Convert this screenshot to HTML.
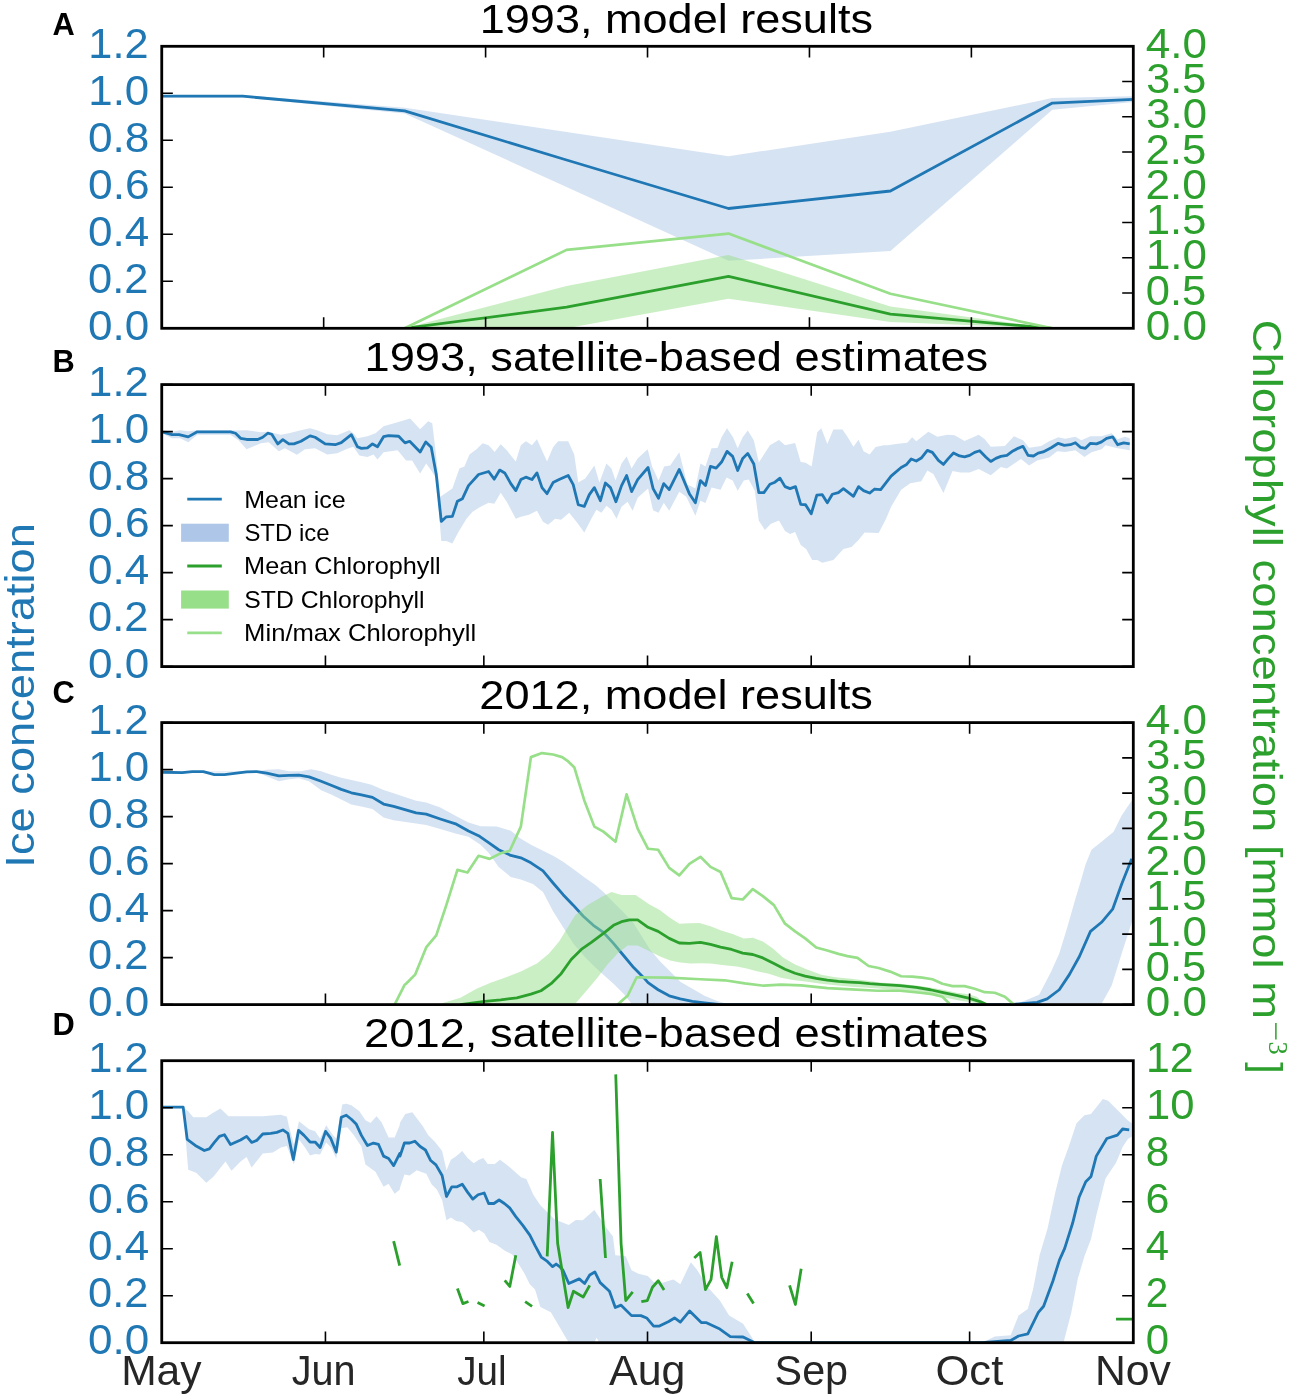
<!DOCTYPE html><html><head><meta charset="utf-8"><style>html,body{margin:0;padding:0;background:#fff;}svg{display:block;will-change:transform;}</style></head><body><svg width="1291" height="1396" viewBox="0 0 1291 1396" font-family="Liberation Sans, sans-serif">
<rect width="1291" height="1396" fill="#fff"/>
<defs>
<clipPath id="c0"><rect x="161.75" y="46.3" width="971.55" height="282.0"/></clipPath>
<clipPath id="c1"><rect x="161.75" y="384.6" width="971.55" height="282.0"/></clipPath>
<clipPath id="c2"><rect x="161.75" y="722.6" width="971.55" height="282.0"/></clipPath>
<clipPath id="c3"><rect x="161.75" y="1060.7" width="971.55" height="282.0"/></clipPath>
</defs>
<polygon points="161.75,95.00 242.71,95.00 404.64,107.80 566.56,132.00 728.49,156.20 890.41,131.80 1052.34,98.10 1133.30,96.20 1133.30,102.00 1052.34,109.70 890.41,251.00 728.49,260.80 566.56,187.00 404.64,113.60 242.71,97.50 161.75,97.50" fill="#aec7e8" fill-opacity="0.5" stroke="none" clip-path="url(#c0)"/>
<polyline points="161.75,96.20 242.71,96.20 404.64,110.90 566.56,160.00 728.49,208.50 890.41,191.00 1052.34,103.10 1133.30,99.30" fill="none" stroke="#1f77b4" stroke-width="2.8" stroke-linejoin="round" stroke-linecap="butt" clip-path="url(#c0)" />
<polygon points="161.75,328.30 404.64,328.30 566.56,286.00 728.49,255.00 890.41,306.50 1052.34,328.30 1133.30,328.30 1133.30,328.30 1052.34,328.30 890.41,322.00 728.49,298.70 566.56,328.30 404.64,328.30 161.75,328.30" fill="#98df8a" fill-opacity="0.5" stroke="none" clip-path="url(#c0)"/>
<polyline points="161.75,328.30 404.64,328.30 566.56,307.20 728.49,276.30 890.41,314.20 1052.34,328.30 1133.30,328.30" fill="none" stroke="#2ca02c" stroke-width="2.8" stroke-linejoin="round" stroke-linecap="butt" clip-path="url(#c0)" />
<polyline points="161.75,328.30 404.64,328.30 566.56,249.90 728.49,233.60 890.41,293.70 1052.34,328.30 1133.30,328.30" fill="none" stroke="#98df8a" stroke-width="2.7" stroke-linejoin="round" stroke-linecap="butt" clip-path="url(#c0)" />
<polygon points="163.02,430.21 172.08,431.82 180.14,430.21 188.20,431.22 197.26,430.21 230.49,430.21 236.54,430.61 246.61,430.21 260.70,432.23 267.75,431.82 280.85,434.64 288.90,433.23 300.99,430.21 310.05,428.20 317.10,430.21 327.17,434.24 337.24,435.25 349.33,430.21 353.35,433.23 357.38,438.27 367.45,436.25 375.51,433.23 383.56,426.18 397.66,422.16 410.07,418.53 420.14,429.20 428.20,421.15 432.23,423.16 435.25,448.34 440.28,496.68 443.30,494.66 452.37,488.62 459.42,468.48 464.45,466.47 469.49,454.38 476.54,449.35 482.58,443.30 488.62,445.32 494.66,451.96 500.70,444.31 506.75,450.35 515.81,461.43 520.85,445.32 525.88,441.29 531.92,445.32 536.96,439.27 540.99,448.34 547.03,461.43 553.07,447.33 558.11,441.29 568.18,441.29 574.22,454.38 578.25,482.58 585.30,478.55 594.36,465.46 599.40,482.58 606.45,463.44 611.48,468.48 615.51,480.56 621.55,463.44 626.59,456.39 631.62,468.48 637.66,458.41 647.65,449.35 652.08,466.47 658.53,480.56 664.17,466.47 670.21,465.46 679.27,452.37 687.33,484.59 695.39,488.62 700.42,463.44 705.46,466.47 711.50,448.34 717.54,447.94 721.57,437.26 727.01,428.20 733.05,437.26 737.68,448.34 742.72,437.26 747.75,430.61 753.80,440.28 758.83,462.44 769.91,445.32 778.97,439.88 785.02,445.32 795.09,442.90 800.73,462.03 805.56,462.84 811.60,466.47 817.24,432.23 821.27,428.20 827.31,443.91 833.35,429.61 842.42,429.61 847.45,436.66 853.49,446.73 858.53,439.68 863.56,451.36 869.61,454.38 875.65,446.93 883.71,445.32 888.06,445.32 896.11,443.91 907.19,442.70 912.23,437.26 916.25,441.29 928.34,431.82 937.40,436.86 947.47,434.64 954.52,435.25 964.59,440.89 978.69,434.84 984.73,439.27 990.78,446.73 1004.87,445.92 1013.94,436.25 1023.00,440.28 1029.04,447.73 1041.13,445.92 1049.18,441.29 1058.25,437.26 1065.30,438.67 1075.37,436.86 1081.41,440.28 1090.47,436.25 1101.55,436.25 1111.62,433.23 1117.66,439.27 1124.71,436.86 1129.75,438.27 1129.75,450.35 1117.66,448.34 1105.58,445.32 1101.55,449.35 1091.48,452.37 1084.43,457.00 1075.37,450.35 1065.30,451.96 1057.24,451.36 1049.18,457.40 1037.10,460.42 1029.04,465.46 1020.99,459.01 1006.89,468.48 1000.85,467.07 990.78,475.13 978.69,468.88 969.63,472.51 960.56,472.51 952.51,470.90 943.44,493.05 933.37,474.12 927.33,470.49 921.29,481.17 910.21,483.18 901.15,489.63 891.08,506.75 886.04,518.83 878.67,532.93 864.57,532.53 858.53,539.98 851.48,547.03 843.42,549.04 833.35,560.12 822.28,562.74 817.24,560.12 812.21,560.12 806.16,549.04 800.73,545.02 795.09,531.92 790.05,533.94 785.02,530.92 778.97,520.44 770.92,523.87 764.87,529.91 758.83,520.85 754.80,490.63 748.76,479.56 743.73,480.56 737.68,490.63 732.65,480.56 726.61,477.54 720.56,489.63 711.50,487.61 705.46,503.12 700.42,500.70 695.39,515.81 686.32,496.68 679.27,491.64 669.20,510.78 663.77,502.72 658.53,512.79 653.09,510.37 648.06,488.62 637.66,497.68 632.63,510.78 627.59,501.71 621.55,506.75 616.52,518.83 611.48,509.77 606.45,505.74 601.41,512.79 596.37,509.77 591.34,518.83 584.29,532.53 577.24,522.86 569.18,512.79 561.13,519.84 555.09,518.83 548.04,524.87 543.00,521.85 536.96,510.78 528.90,514.80 520.85,516.82 515.81,518.83 506.75,501.71 500.70,492.65 494.26,503.73 488.62,502.72 480.56,506.75 472.51,511.78 466.47,518.83 458.41,531.92 452.37,543.40 446.32,540.99 441.29,540.99 436.25,478.55 431.22,470.49 426.18,463.44 420.14,473.51 412.08,460.42 406.04,460.42 397.66,450.35 383.56,452.37 377.52,459.42 373.49,454.38 367.45,457.00 359.40,455.39 353.35,446.73 347.31,448.74 337.24,453.37 327.17,454.38 315.09,448.34 305.02,449.35 296.96,454.78 284.87,448.34 278.83,451.36 268.76,442.30 260.70,443.30 246.61,449.35 238.55,440.28 230.49,434.64 197.26,434.64 188.20,442.30 180.14,438.27 172.08,438.27 163.02,433.84" fill="#aec7e8" fill-opacity="0.5" stroke="none" clip-path="url(#c1)"/>
<polyline points="163.02,432.23 172.08,434.64 179.13,434.64 188.20,436.86 197.26,431.82 230.49,431.82 235.53,433.23 240.56,438.27 246.61,439.48 257.68,439.48 262.72,437.26 267.75,433.23 271.78,434.24 277.82,443.91 282.86,439.68 288.90,443.91 293.94,443.91 300.99,441.29 310.05,435.85 315.09,437.26 325.16,443.91 335.23,444.71 341.27,442.70 351.34,434.64 357.38,446.73 361.41,448.34 367.45,447.94 372.49,443.91 377.52,446.73 383.56,436.66 388.60,435.65 398.67,436.25 405.04,442.90 409.67,441.29 420.14,451.96 425.78,441.89 431.22,447.33 436.25,474.52 441.29,521.45 446.32,516.82 452.37,516.41 457.40,501.31 462.44,498.69 468.48,485.60 478.55,474.52 488.62,471.50 494.26,479.15 499.70,470.09 504.73,472.91 510.78,483.59 515.81,490.63 520.85,479.56 525.88,477.14 531.92,479.56 536.96,472.91 541.99,487.61 547.03,493.66 553.07,482.58 559.11,479.56 568.18,475.53 573.21,484.59 578.25,504.73 584.29,506.34 589.33,494.66 594.36,487.61 600.40,500.70 605.44,482.98 610.47,487.61 615.91,501.71 621.55,485.60 626.59,475.53 631.62,491.64 637.66,479.56 648.06,467.47 653.09,488.62 658.53,498.29 663.77,483.59 669.20,489.63 679.27,469.49 689.35,493.66 695.39,502.72 700.42,480.56 705.46,485.60 710.49,466.47 716.13,468.08 721.57,462.03 727.01,451.36 732.65,456.39 737.68,470.49 742.72,458.41 747.75,453.37 753.80,464.05 758.83,492.65 763.87,492.65 769.91,484.19 774.94,482.18 779.98,478.15 785.02,486.61 790.05,488.62 795.49,486.61 800.73,504.33 805.56,504.73 811.20,513.80 816.84,495.07 822.28,494.66 827.31,502.72 832.35,494.26 838.39,492.65 843.42,488.62 853.49,496.27 858.53,486.61 863.56,490.63 869.61,493.05 874.64,489.02 880.68,489.63 891.08,476.13 901.15,467.47 906.18,464.85 911.22,459.01 916.25,461.03 921.29,458.01 927.33,450.35 932.37,452.37 938.41,460.42 943.44,464.45 948.48,458.41 953.51,452.97 959.56,455.99 964.59,456.80 969.63,455.39 974.66,452.37 979.70,450.76 985.74,457.00 990.78,461.43 995.81,458.41 1000.85,456.39 1006.89,455.39 1012.93,450.96 1017.97,448.34 1023.00,446.32 1028.04,455.39 1033.47,455.99 1038.11,453.17 1043.14,451.96 1051.20,447.73 1058.25,443.30 1064.29,445.32 1070.33,444.71 1075.37,442.70 1080.40,447.33 1085.44,448.34 1090.47,443.30 1096.52,443.91 1101.55,441.89 1106.59,438.27 1112.63,436.86 1117.66,444.71 1123.71,442.90 1129.75,443.91" fill="none" stroke="#1f77b4" stroke-width="2.8" stroke-linejoin="round" stroke-linecap="butt" clip-path="url(#c1)" />
<polygon points="163.02,771.82 256.68,771.22 266.75,769.81 278.83,769.20 288.90,771.22 300.99,771.22 311.06,769.20 321.13,771.22 331.20,774.64 341.27,777.87 351.34,779.88 361.41,782.30 371.48,784.71 383.56,789.95 393.64,793.37 416.11,800.83 426.18,802.44 440.28,807.47 456.39,816.13 468.48,822.58 480.56,826.20 496.68,826.61 510.78,830.63 520.85,838.69 530.92,844.73 543.00,850.78 553.07,855.81 563.14,861.85 575.23,870.51 585.30,877.97 595.37,885.02 603.42,892.06 613.49,902.13 623.56,912.21 633.64,923.28 650.07,949.47 660.14,961.55 670.21,971.62 680.28,981.69 692.37,988.74 704.45,995.79 716.54,1000.83 726.61,1003.85 1016.96,1003.85 1027.03,999.82 1039.11,994.78 1051.20,971.62 1059.25,953.49 1067.31,927.31 1075.37,899.11 1081.41,878.97 1085.44,864.87 1091.48,849.77 1101.55,841.71 1113.64,831.64 1121.69,815.53 1127.73,806.47 1134.78,796.39 1134.78,913.21 1121.69,953.49 1111.62,985.72 1101.55,1003.85 631.62,1003.85 623.56,993.78 613.49,983.71 603.42,974.64 595.37,967.59 585.30,957.52 573.21,943.42 563.14,927.31 553.07,911.20 543.00,892.06 532.93,884.01 520.85,879.38 510.78,876.96 498.69,866.89 488.62,852.79 480.56,844.73 468.48,836.68 456.39,833.66 440.28,829.02 426.18,824.99 416.11,823.59 393.64,820.16 383.56,817.54 372.49,808.88 361.41,806.47 351.34,804.45 341.27,799.42 331.20,794.38 321.13,790.35 309.04,781.29 298.97,778.27 288.90,779.27 278.83,781.29 266.75,776.25 256.68,772.23 163.02,772.63" fill="#aec7e8" fill-opacity="0.5" stroke="none" clip-path="url(#c2)"/>
<polyline points="163.02,772.23 182.16,772.63 192.23,771.62 203.30,771.62 214.38,774.64 224.45,774.64 234.52,773.43 246.61,771.82 256.68,771.62 266.75,773.23 278.83,775.85 288.90,775.45 298.97,775.05 309.04,776.86 321.13,781.29 331.20,785.32 341.27,789.35 351.34,792.77 361.41,794.98 372.49,797.40 383.56,804.05 393.64,806.47 416.11,812.91 426.18,814.12 440.28,818.95 456.39,824.19 468.48,831.04 478.55,835.67 488.62,842.72 498.69,849.77 510.78,855.41 520.85,857.82 530.92,862.86 543.00,870.92 553.07,883.00 563.14,894.68 573.21,905.16 583.28,916.23 593.35,925.30 603.42,932.35 613.49,943.42 623.56,955.51 633.64,967.59 643.71,977.66 648.06,982.70 658.13,989.75 669.20,995.79 680.28,998.81 692.37,1001.43 704.45,1002.84 720.56,1004.60 1010.92,1004.60 1037.10,1002.44 1047.17,998.81 1059.25,989.75 1069.33,974.64 1079.40,956.52 1090.47,931.34 1101.55,922.28 1112.63,909.18 1121.69,884.01 1131.76,858.83" fill="none" stroke="#1f77b4" stroke-width="2.8" stroke-linejoin="round" stroke-linecap="butt" clip-path="url(#c2)" />
<polygon points="440.28,1003.85 460.42,997.80 476.54,988.74 490.63,982.70 504.73,977.66 520.85,971.62 536.96,963.56 549.04,953.49 559.11,941.41 567.17,928.32 575.23,915.23 587.31,905.16 601.41,897.10 611.48,892.06 621.55,895.09 635.65,895.09 649.06,904.15 660.14,910.19 669.20,917.24 679.27,923.69 689.35,923.28 699.42,922.88 710.49,926.30 720.56,930.33 732.65,933.96 743.73,938.39 752.79,937.78 762.86,941.41 772.93,948.46 783.00,957.52 795.09,964.57 807.17,969.61 821.27,974.64 835.37,977.26 851.48,978.67 867.59,980.68 881.69,982.70 900.14,983.71 920.28,986.12 940.42,989.35 956.54,992.77 968.62,994.18 976.68,996.80 984.73,1003.85 980.70,1003.85 960.56,1000.83 940.42,996.80 920.28,993.37 900.14,990.76 881.69,988.74 867.59,987.73 851.48,986.73 835.37,985.32 821.27,983.71 807.17,981.69 793.07,980.08 780.99,977.66 768.90,973.64 756.82,971.22 746.75,968.60 736.68,966.59 724.59,965.18 710.49,963.56 700.42,963.16 690.35,963.56 680.28,962.56 670.21,960.54 660.14,956.52 650.07,951.48 637.66,945.44 627.59,945.44 617.52,953.49 607.45,964.57 597.38,977.66 587.31,989.75 575.23,1003.85" fill="#98df8a" fill-opacity="0.5" stroke="none" clip-path="url(#c2)"/>
<polyline points="460.42,1004.60 484.59,1001.43 500.70,999.82 516.82,997.80 530.92,994.18 540.99,990.76 551.06,983.71 561.13,973.64 571.20,959.54 581.27,949.47 591.34,942.42 603.42,933.35 613.49,925.30 621.55,921.67 629.61,919.86 637.66,919.86 648.06,927.31 658.13,931.34 669.20,938.39 679.27,943.02 689.35,943.42 700.42,942.42 710.49,944.43 720.56,947.05 731.64,949.47 742.72,953.09 752.79,954.50 762.86,957.93 773.94,963.56 785.02,969.20 795.09,973.23 805.16,976.05 816.23,978.47 827.31,980.08 838.39,981.29 849.47,982.09 859.54,982.70 869.61,983.71 879.68,984.31 900.14,985.72 916.25,987.33 930.35,989.75 944.45,992.77 956.54,995.39 968.62,998.21 980.70,1001.83 986.75,1004.60" fill="none" stroke="#2ca02c" stroke-width="2.8" stroke-linejoin="round" stroke-linecap="butt" clip-path="url(#c2)" />
<polyline points="394.64,1004.60 404.71,984.71 406.04,983.71 415.11,974.64 426.18,947.45 436.25,935.37 446.32,905.16 457.40,869.91 467.47,872.53 478.55,855.81 489.63,858.83 500.70,853.19 509.77,850.78 520.85,826.61 530.92,757.12 541.99,753.09 553.07,754.50 562.13,757.12 567.17,760.54 574.22,767.19 584.29,800.42 594.36,826.61 603.42,831.64 615.51,841.71 626.59,794.38 637.66,828.62 648.06,848.76 658.13,849.77 669.20,867.90 679.27,875.35 689.35,863.87 700.42,856.82 710.49,866.89 720.56,871.92 731.64,898.11 742.72,899.52 752.79,889.04 762.86,896.09 773.94,905.16 785.02,923.69 795.09,931.34 805.16,938.39 816.23,947.45 827.31,950.47 838.39,953.90 847.45,956.11 857.52,957.93 868.60,965.98 878.67,968.00 890.07,971.62 901.15,976.25 912.23,976.66 922.30,977.66 932.37,979.27 942.44,983.71 952.51,986.12 964.59,986.12 974.66,988.74 984.73,992.17 994.80,992.77 1004.87,996.80 1013.94,1004.60" fill="none" stroke="#98df8a" stroke-width="2.7" stroke-linejoin="round" stroke-linecap="butt" clip-path="url(#c2)" />
<polyline points="617.52,1004.60 627.59,995.79 636.66,977.26 668.20,977.66 700.42,979.27 724.59,980.28 744.73,983.30 763.87,985.72 780.99,984.71 801.13,985.32 827.31,988.14 851.48,989.35 877.66,990.76 900.14,990.76 920.28,992.77 932.37,994.18 942.44,996.80 950.49,1004.60" fill="none" stroke="#98df8a" stroke-width="2.7" stroke-linejoin="round" stroke-linecap="butt" clip-path="url(#c2)" />
<polygon points="163.02,1107.19 183.16,1107.19 188.20,1111.22 193.23,1117.26 206.32,1117.26 212.37,1113.23 220.42,1108.60 228.48,1116.25 246.61,1116.25 262.72,1116.25 280.85,1114.64 286.89,1116.66 288.90,1126.32 293.94,1144.45 298.97,1121.29 309.04,1129.35 315.09,1131.36 320.12,1138.41 326.16,1125.32 333.21,1135.39 336.23,1138.41 342.28,1104.57 346.30,1103.77 351.34,1105.18 359.40,1111.22 365.44,1120.28 370.47,1122.90 376.52,1116.25 381.55,1122.30 388.60,1137.40 394.64,1137.40 399.68,1125.32 400.00,1122.81 405.26,1114.04 412.28,1112.28 417.54,1119.30 422.81,1126.32 428.07,1135.09 435.09,1142.11 442.11,1150.88 446.49,1170.18 450.88,1159.65 456.14,1156.14 462.28,1150.88 467.54,1157.89 473.68,1163.16 478.95,1159.65 483.33,1157.89 487.72,1164.04 494.74,1164.04 500.00,1159.65 507.02,1164.91 514.04,1171.05 521.05,1177.19 526.32,1178.95 533.33,1194.74 540.35,1205.26 547.37,1212.28 554.39,1219.30 568.80,1224.99 575.77,1219.88 582.74,1220.34 594.36,1209.88 605.98,1227.31 612.95,1236.61 615.28,1255.20 625.73,1256.36 631.54,1270.30 638.51,1273.79 647.81,1276.11 653.62,1281.92 661.75,1283.08 673.37,1279.60 680.34,1284.25 690.80,1262.17 696.61,1269.14 708.23,1287.73 719.85,1300.51 729.14,1315.62 743.08,1323.75 754.70,1341.64 810.53,1342.33 983.04,1342.33 994.89,1336.53 1010.69,1335.22 1018.59,1315.46 1027.81,1308.88 1033.08,1289.13 1039.66,1254.89 1047.56,1228.55 1055.46,1191.68 1062.05,1165.35 1068.63,1146.91 1076.53,1123.21 1084.44,1115.31 1091.02,1113.99 1102.87,1098.98 1108.14,1100.82 1118.67,1111.36 1127.89,1120.57 1131.84,1123.21 1131.84,1136.38 1127.89,1139.01 1122.62,1146.91 1116.04,1162.71 1105.50,1178.51 1096.29,1215.39 1091.02,1239.09 1084.44,1256.21 1077.85,1278.59 1071.27,1312.83 1063.37,1343.12 810.53,1343.12 599.01,1342.34 596.69,1337.69 594.36,1342.34 568.80,1342.34 566.48,1338.86 550.88,1312.28 540.35,1307.02 535.09,1289.47 529.82,1284.21 524.56,1273.68 519.30,1264.91 512.28,1254.39 505.26,1250.88 496.49,1244.74 489.47,1242.11 484.21,1233.33 478.95,1229.82 473.68,1232.46 467.54,1226.32 462.28,1221.93 456.14,1221.05 450.88,1217.54 446.49,1220.18 442.11,1200.00 436.84,1189.47 431.58,1184.21 426.32,1173.68 416.67,1170.18 409.65,1175.44 404.39,1174.56 400.00,1187.72 399.68,1189.77 394.64,1193.80 388.60,1183.73 383.56,1186.75 375.51,1171.64 365.44,1164.59 361.41,1146.47 353.35,1134.38 347.31,1127.33 341.27,1128.34 336.23,1158.55 331.20,1147.47 326.16,1142.44 320.12,1154.52 315.09,1154.12 310.05,1155.53 305.02,1147.47 298.97,1139.42 293.94,1164.59 286.89,1146.06 280.85,1147.47 272.79,1152.51 262.72,1153.51 251.64,1167.61 246.61,1156.94 240.56,1161.57 231.50,1170.63 225.46,1161.57 213.37,1176.68 206.32,1182.72 196.25,1172.65 188.20,1169.63 183.16,1107.19 163.02,1107.19" fill="#aec7e8" fill-opacity="0.5" stroke="none" clip-path="url(#c3)"/>
<polyline points="163.02,1107.19 183.16,1107.19 187.19,1139.42 195.25,1145.46 204.31,1150.49 209.35,1148.88 214.38,1142.44 219.42,1136.39 224.45,1134.78 230.49,1144.45 240.56,1140.02 246.61,1136.39 251.64,1142.44 256.68,1140.42 262.72,1133.98 270.78,1133.37 276.82,1132.37 282.86,1129.95 287.90,1133.37 293.33,1159.56 298.57,1130.35 304.01,1135.39 310.05,1142.03 315.09,1142.03 320.12,1147.47 325.56,1131.36 330.80,1138.41 336.23,1152.10 341.27,1117.26 346.30,1115.25 351.34,1119.27 356.37,1124.31 361.41,1135.39 367.45,1145.46 373.49,1143.04 378.53,1144.45 383.56,1156.13 388.60,1158.55 393.64,1165.60 399.68,1153.51 400.00,1156.14 404.39,1142.98 409.65,1142.98 414.91,1141.23 420.18,1146.49 425.44,1150.00 430.70,1160.53 435.96,1164.91 442.11,1175.44 446.49,1196.49 451.75,1186.84 457.02,1186.84 462.28,1184.21 467.54,1192.11 472.81,1199.12 478.07,1194.74 484.21,1192.98 488.60,1203.51 493.86,1203.51 499.12,1200.00 504.39,1203.51 509.65,1207.89 515.79,1216.67 522.81,1225.44 529.82,1235.09 535.09,1245.61 541.23,1257.02 547.37,1261.40 552.63,1266.67 556.14,1264.04 559.65,1266.67 562.99,1270.30 568.80,1283.55 579.26,1278.90 584.60,1283.55 589.71,1274.95 594.83,1271.93 600.17,1282.62 609.47,1291.22 615.28,1307.48 621.09,1305.16 631.54,1315.62 640.84,1315.62 646.65,1317.94 653.62,1326.07 659.43,1326.07 668.72,1321.43 674.53,1317.94 680.34,1322.12 689.64,1310.97 701.26,1322.59 705.90,1322.59 719.85,1329.10 730.30,1336.53 743.08,1337.00 754.70,1342.70 798.86,1342.70 810.53,1342.70 981.72,1342.70 1010.69,1340.48 1018.59,1336.01 1027.81,1333.90 1038.35,1312.30 1043.61,1306.25 1052.83,1281.23 1059.42,1260.16 1064.68,1248.31 1072.58,1223.29 1079.17,1196.95 1085.75,1181.68 1091.02,1176.41 1096.29,1156.13 1106.82,1138.48 1117.36,1135.06 1122.62,1129.00 1129.21,1129.79" fill="none" stroke="#1f77b4" stroke-width="2.8" stroke-linejoin="round" stroke-linecap="butt" clip-path="url(#c3)" />
<polyline points="393.64,1241.13 399.68,1265.70" fill="none" stroke="#2ca02c" stroke-width="2.8" stroke-linejoin="round" stroke-linecap="butt" clip-path="url(#c3)" />
<polyline points="457.40,1288.46 462.84,1303.56 468.48,1301.55" fill="none" stroke="#2ca02c" stroke-width="2.8" stroke-linejoin="round" stroke-linecap="butt" clip-path="url(#c3)" />
<polyline points="477.54,1302.56 484.59,1305.98" fill="none" stroke="#2ca02c" stroke-width="2.8" stroke-linejoin="round" stroke-linecap="butt" clip-path="url(#c3)" />
<polyline points="504.73,1280.40 509.77,1286.45 515.81,1255.23" fill="none" stroke="#2ca02c" stroke-width="2.8" stroke-linejoin="round" stroke-linecap="butt" clip-path="url(#c3)" />
<polyline points="525.11,1301.67 532.08,1306.32" fill="none" stroke="#2ca02c" stroke-width="2.8" stroke-linejoin="round" stroke-linecap="butt" clip-path="url(#c3)" />
<polyline points="547.19,1256.36 552.53,1132.50 557.65,1243.58 568.10,1307.48 573.45,1291.22 583.21,1297.03 589.71,1285.41" fill="none" stroke="#2ca02c" stroke-width="2.8" stroke-linejoin="round" stroke-linecap="butt" clip-path="url(#c3)" />
<polyline points="600.17,1178.98 605.52,1257.99" fill="none" stroke="#2ca02c" stroke-width="2.8" stroke-linejoin="round" stroke-linecap="butt" clip-path="url(#c3)" />
<polyline points="615.74,1074.41 621.09,1243.58 625.73,1300.51 632.70,1291.92" fill="none" stroke="#2ca02c" stroke-width="2.8" stroke-linejoin="round" stroke-linecap="butt" clip-path="url(#c3)" />
<polyline points="641.30,1301.67 647.34,1300.51 652.46,1287.27 658.27,1280.76 664.08,1290.06" fill="none" stroke="#2ca02c" stroke-width="2.8" stroke-linejoin="round" stroke-linecap="butt" clip-path="url(#c3)" />
<polyline points="694.28,1257.99 700.09,1252.41 705.44,1289.59 711.02,1279.60 716.36,1236.61 721.71,1277.28 726.82,1287.73 732.16,1261.71" fill="none" stroke="#2ca02c" stroke-width="2.8" stroke-linejoin="round" stroke-linecap="butt" clip-path="url(#c3)" />
<polyline points="747.27,1293.54 753.54,1303.53" fill="none" stroke="#2ca02c" stroke-width="2.8" stroke-linejoin="round" stroke-linecap="butt" clip-path="url(#c3)" />
<polyline points="789.56,1285.41 795.37,1304.46 801.18,1268.68" fill="none" stroke="#2ca02c" stroke-width="2.8" stroke-linejoin="round" stroke-linecap="butt" clip-path="url(#c3)" />
<polyline points="1116.04,1319.15 1132.37,1319.15" fill="none" stroke="#2ca02c" stroke-width="2.8" stroke-linejoin="round" stroke-linecap="butt" clip-path="url(#c3)" />
<path d="M323.67,328.30V317.20M323.67,46.30V57.40M485.60,328.30V317.20M485.60,46.30V57.40M647.52,328.30V317.20M647.52,46.30V57.40M809.45,328.30V317.20M809.45,46.30V57.40M971.38,328.30V317.20M971.38,46.30V57.40M161.75,328.30H172.85M161.75,281.30H172.85M161.75,234.30H172.85M161.75,187.30H172.85M161.75,140.30H172.85M161.75,93.30H172.85M161.75,46.30H172.85M1133.30,328.30H1122.20M1133.30,293.05H1122.20M1133.30,257.80H1122.20M1133.30,222.55H1122.20M1133.30,187.30H1122.20M1133.30,152.05H1122.20M1133.30,116.80H1122.20M1133.30,81.55H1122.20M1133.30,46.30H1122.20" stroke="#000" stroke-width="1.6" fill="none"/>
<rect x="161.75" y="46.3" width="971.55" height="282.0" fill="none" stroke="#000" stroke-width="2.8"/>
<text x="88.03" y="339.90" font-size="42.15" fill="#1f77b4" font-weight="normal" textLength="61.24" lengthAdjust="spacingAndGlyphs" >0.0</text>
<text x="88.06" y="292.90" font-size="42.15" fill="#1f77b4" font-weight="normal" textLength="60.45" lengthAdjust="spacingAndGlyphs" >0.2</text>
<text x="88.03" y="245.90" font-size="42.15" fill="#1f77b4" font-weight="normal" textLength="61.19" lengthAdjust="spacingAndGlyphs" >0.4</text>
<text x="88.02" y="198.90" font-size="42.15" fill="#1f77b4" font-weight="normal" textLength="61.58" lengthAdjust="spacingAndGlyphs" >0.6</text>
<text x="88.03" y="151.90" font-size="42.15" fill="#1f77b4" font-weight="normal" textLength="61.37" lengthAdjust="spacingAndGlyphs" >0.8</text>
<text x="88.29" y="104.90" font-size="42.15" fill="#1f77b4" font-weight="normal" textLength="60.98" lengthAdjust="spacingAndGlyphs" >1.0</text>
<text x="88.33" y="57.90" font-size="42.15" fill="#1f77b4" font-weight="normal" textLength="60.17" lengthAdjust="spacingAndGlyphs" >1.2</text>
<text x="1145.71" y="339.90" font-size="42.15" fill="#2ca02c" font-weight="normal" textLength="61.24" lengthAdjust="spacingAndGlyphs" >0.0</text>
<text x="1145.73" y="304.65" font-size="42.15" fill="#2ca02c" font-weight="normal" textLength="60.51" lengthAdjust="spacingAndGlyphs" >0.5</text>
<text x="1145.97" y="269.40" font-size="42.15" fill="#2ca02c" font-weight="normal" textLength="60.98" lengthAdjust="spacingAndGlyphs" >1.0</text>
<text x="1146.01" y="234.15" font-size="42.05" fill="#2ca02c" font-weight="normal" textLength="60.23" lengthAdjust="spacingAndGlyphs" >1.5</text>
<text x="1145.56" y="198.90" font-size="42.15" fill="#2ca02c" font-weight="normal" textLength="61.39" lengthAdjust="spacingAndGlyphs" >2.0</text>
<text x="1145.59" y="163.65" font-size="42.15" fill="#2ca02c" font-weight="normal" textLength="60.66" lengthAdjust="spacingAndGlyphs" >2.5</text>
<text x="1146.23" y="128.40" font-size="42.15" fill="#2ca02c" font-weight="normal" textLength="60.70" lengthAdjust="spacingAndGlyphs" >3.0</text>
<text x="1146.25" y="93.15" font-size="42.15" fill="#2ca02c" font-weight="normal" textLength="59.98" lengthAdjust="spacingAndGlyphs" >3.5</text>
<text x="1145.79" y="57.90" font-size="42.15" fill="#2ca02c" font-weight="normal" textLength="61.16" lengthAdjust="spacingAndGlyphs" >4.0</text>
<path d="M325.44,666.60V655.50M325.44,384.60V395.70M483.84,666.60V655.50M483.84,384.60V395.70M647.52,666.60V655.50M647.52,384.60V395.70M811.21,666.60V655.50M811.21,384.60V395.70M969.61,666.60V655.50M969.61,384.60V395.70M161.75,666.60H172.85M1133.30,666.60H1122.20M161.75,619.60H172.85M1133.30,619.60H1122.20M161.75,572.60H172.85M1133.30,572.60H1122.20M161.75,525.60H172.85M1133.30,525.60H1122.20M161.75,478.60H172.85M1133.30,478.60H1122.20M161.75,431.60H172.85M1133.30,431.60H1122.20M161.75,384.60H172.85M1133.30,384.60H1122.20" stroke="#000" stroke-width="1.6" fill="none"/>
<rect x="161.75" y="384.6" width="971.55" height="282.0" fill="none" stroke="#000" stroke-width="2.8"/>
<text x="88.03" y="678.20" font-size="42.15" fill="#1f77b4" font-weight="normal" textLength="61.24" lengthAdjust="spacingAndGlyphs" >0.0</text>
<text x="88.06" y="631.20" font-size="42.15" fill="#1f77b4" font-weight="normal" textLength="60.45" lengthAdjust="spacingAndGlyphs" >0.2</text>
<text x="88.03" y="584.20" font-size="42.15" fill="#1f77b4" font-weight="normal" textLength="61.19" lengthAdjust="spacingAndGlyphs" >0.4</text>
<text x="88.02" y="537.20" font-size="42.15" fill="#1f77b4" font-weight="normal" textLength="61.58" lengthAdjust="spacingAndGlyphs" >0.6</text>
<text x="88.03" y="490.20" font-size="42.15" fill="#1f77b4" font-weight="normal" textLength="61.37" lengthAdjust="spacingAndGlyphs" >0.8</text>
<text x="88.29" y="443.20" font-size="42.15" fill="#1f77b4" font-weight="normal" textLength="60.98" lengthAdjust="spacingAndGlyphs" >1.0</text>
<text x="88.33" y="396.20" font-size="42.15" fill="#1f77b4" font-weight="normal" textLength="60.17" lengthAdjust="spacingAndGlyphs" >1.2</text>
<path d="M325.44,1004.60V993.50M325.44,722.60V733.70M483.84,1004.60V993.50M483.84,722.60V733.70M647.52,1004.60V993.50M647.52,722.60V733.70M811.21,1004.60V993.50M811.21,722.60V733.70M969.61,1004.60V993.50M969.61,722.60V733.70M161.75,1004.60H172.85M161.75,957.60H172.85M161.75,910.60H172.85M161.75,863.60H172.85M161.75,816.60H172.85M161.75,769.60H172.85M161.75,722.60H172.85M1133.30,1004.60H1122.20M1133.30,969.35H1122.20M1133.30,934.10H1122.20M1133.30,898.85H1122.20M1133.30,863.60H1122.20M1133.30,828.35H1122.20M1133.30,793.10H1122.20M1133.30,757.85H1122.20M1133.30,722.60H1122.20" stroke="#000" stroke-width="1.6" fill="none"/>
<rect x="161.75" y="722.6" width="971.55" height="282.0" fill="none" stroke="#000" stroke-width="2.8"/>
<text x="88.03" y="1016.20" font-size="42.15" fill="#1f77b4" font-weight="normal" textLength="61.24" lengthAdjust="spacingAndGlyphs" >0.0</text>
<text x="88.06" y="969.20" font-size="42.15" fill="#1f77b4" font-weight="normal" textLength="60.45" lengthAdjust="spacingAndGlyphs" >0.2</text>
<text x="88.03" y="922.20" font-size="42.15" fill="#1f77b4" font-weight="normal" textLength="61.19" lengthAdjust="spacingAndGlyphs" >0.4</text>
<text x="88.02" y="875.20" font-size="42.15" fill="#1f77b4" font-weight="normal" textLength="61.58" lengthAdjust="spacingAndGlyphs" >0.6</text>
<text x="88.03" y="828.20" font-size="42.15" fill="#1f77b4" font-weight="normal" textLength="61.37" lengthAdjust="spacingAndGlyphs" >0.8</text>
<text x="88.29" y="781.20" font-size="42.15" fill="#1f77b4" font-weight="normal" textLength="60.98" lengthAdjust="spacingAndGlyphs" >1.0</text>
<text x="88.33" y="734.20" font-size="42.15" fill="#1f77b4" font-weight="normal" textLength="60.17" lengthAdjust="spacingAndGlyphs" >1.2</text>
<text x="1145.71" y="1016.20" font-size="42.15" fill="#2ca02c" font-weight="normal" textLength="61.24" lengthAdjust="spacingAndGlyphs" >0.0</text>
<text x="1145.73" y="980.95" font-size="42.15" fill="#2ca02c" font-weight="normal" textLength="60.51" lengthAdjust="spacingAndGlyphs" >0.5</text>
<text x="1145.97" y="945.70" font-size="42.15" fill="#2ca02c" font-weight="normal" textLength="60.98" lengthAdjust="spacingAndGlyphs" >1.0</text>
<text x="1146.01" y="910.45" font-size="42.05" fill="#2ca02c" font-weight="normal" textLength="60.23" lengthAdjust="spacingAndGlyphs" >1.5</text>
<text x="1145.56" y="875.20" font-size="42.15" fill="#2ca02c" font-weight="normal" textLength="61.39" lengthAdjust="spacingAndGlyphs" >2.0</text>
<text x="1145.59" y="839.95" font-size="42.15" fill="#2ca02c" font-weight="normal" textLength="60.66" lengthAdjust="spacingAndGlyphs" >2.5</text>
<text x="1146.23" y="804.70" font-size="42.15" fill="#2ca02c" font-weight="normal" textLength="60.70" lengthAdjust="spacingAndGlyphs" >3.0</text>
<text x="1146.25" y="769.45" font-size="42.15" fill="#2ca02c" font-weight="normal" textLength="59.98" lengthAdjust="spacingAndGlyphs" >3.5</text>
<text x="1145.79" y="734.20" font-size="42.15" fill="#2ca02c" font-weight="normal" textLength="61.16" lengthAdjust="spacingAndGlyphs" >4.0</text>
<path d="M325.44,1342.70V1331.60M325.44,1060.70V1071.80M483.84,1342.70V1331.60M483.84,1060.70V1071.80M647.52,1342.70V1331.60M647.52,1060.70V1071.80M811.21,1342.70V1331.60M811.21,1060.70V1071.80M969.61,1342.70V1331.60M969.61,1060.70V1071.80M161.75,1342.70H172.85M161.75,1295.70H172.85M161.75,1248.70H172.85M161.75,1201.70H172.85M161.75,1154.70H172.85M161.75,1107.70H172.85M161.75,1060.70H172.85M1133.30,1342.70H1122.20M1133.30,1295.70H1122.20M1133.30,1248.70H1122.20M1133.30,1201.70H1122.20M1133.30,1154.70H1122.20M1133.30,1107.70H1122.20M1133.30,1060.70H1122.20" stroke="#000" stroke-width="1.6" fill="none"/>
<rect x="161.75" y="1060.7" width="971.55" height="282.0" fill="none" stroke="#000" stroke-width="2.8"/>
<text x="88.03" y="1354.30" font-size="42.15" fill="#1f77b4" font-weight="normal" textLength="61.24" lengthAdjust="spacingAndGlyphs" >0.0</text>
<text x="88.06" y="1307.30" font-size="42.15" fill="#1f77b4" font-weight="normal" textLength="60.45" lengthAdjust="spacingAndGlyphs" >0.2</text>
<text x="88.03" y="1260.30" font-size="42.15" fill="#1f77b4" font-weight="normal" textLength="61.19" lengthAdjust="spacingAndGlyphs" >0.4</text>
<text x="88.02" y="1213.30" font-size="42.15" fill="#1f77b4" font-weight="normal" textLength="61.58" lengthAdjust="spacingAndGlyphs" >0.6</text>
<text x="88.03" y="1166.30" font-size="42.15" fill="#1f77b4" font-weight="normal" textLength="61.37" lengthAdjust="spacingAndGlyphs" >0.8</text>
<text x="88.29" y="1119.30" font-size="42.15" fill="#1f77b4" font-weight="normal" textLength="60.98" lengthAdjust="spacingAndGlyphs" >1.0</text>
<text x="88.33" y="1072.30" font-size="42.15" fill="#1f77b4" font-weight="normal" textLength="60.17" lengthAdjust="spacingAndGlyphs" >1.2</text>
<text x="1145.80" y="1354.30" font-size="42.15" fill="#2ca02c" font-weight="normal" textLength="23.29" lengthAdjust="spacingAndGlyphs" >0</text>
<text x="1145.75" y="1307.30" font-size="42.15" fill="#2ca02c" font-weight="normal" textLength="22.51" lengthAdjust="spacingAndGlyphs" >2</text>
<text x="1145.84" y="1260.30" font-size="42.05" fill="#2ca02c" font-weight="normal" textLength="23.22" lengthAdjust="spacingAndGlyphs" >4</text>
<text x="1145.52" y="1213.30" font-size="42.15" fill="#2ca02c" font-weight="normal" textLength="23.93" lengthAdjust="spacingAndGlyphs" >6</text>
<text x="1145.78" y="1166.30" font-size="42.15" fill="#2ca02c" font-weight="normal" textLength="23.43" lengthAdjust="spacingAndGlyphs" >8</text>
<text x="1145.99" y="1119.30" font-size="42.15" fill="#2ca02c" font-weight="normal" textLength="48.46" lengthAdjust="spacingAndGlyphs" >10</text>
<text x="1146.04" y="1072.30" font-size="42.15" fill="#2ca02c" font-weight="normal" textLength="47.63" lengthAdjust="spacingAndGlyphs" >12</text>
<text x="479.72" y="32.70" font-size="41.51" fill="#000" font-weight="normal" textLength="393.23" lengthAdjust="spacingAndGlyphs" >1993, model results</text>
<text x="364.49" y="371.00" font-size="41.51" fill="#000" font-weight="normal" textLength="623.68" lengthAdjust="spacingAndGlyphs" >1993, satellite-based estimates</text>
<text x="479.35" y="709.00" font-size="41.51" fill="#000" font-weight="normal" textLength="393.59" lengthAdjust="spacingAndGlyphs" >2012, model results</text>
<text x="364.13" y="1047.10" font-size="41.51" fill="#000" font-weight="normal" textLength="624.03" lengthAdjust="spacingAndGlyphs" >2012, satellite-based estimates</text>
<text x="52.6" y="34.9" font-size="30.8" font-weight="bold" fill="#000">A</text>
<text x="52.6" y="371.8" font-size="30.8" font-weight="bold" fill="#000">B</text>
<text x="52.6" y="703.2" font-size="30.8" font-weight="bold" fill="#000">C</text>
<text x="52.6" y="1034.6" font-size="30.8" font-weight="bold" fill="#000">D</text>
<text x="121.16" y="1384.80" font-size="42.05" fill="#262626" font-weight="normal" textLength="80.41" lengthAdjust="spacingAndGlyphs" >May</text>
<text x="291.83" y="1384.80" font-size="42.05" fill="#262626" font-weight="normal" textLength="63.74" lengthAdjust="spacingAndGlyphs" >Jun</text>
<text x="457.29" y="1384.80" font-size="41.51" fill="#262626" font-weight="normal" textLength="49.35" lengthAdjust="spacingAndGlyphs" >Jul</text>
<text x="609.05" y="1384.80" font-size="42.05" fill="#262626" font-weight="normal" textLength="76.32" lengthAdjust="spacingAndGlyphs" >Aug</text>
<text x="774.61" y="1384.80" font-size="42.15" fill="#262626" font-weight="normal" textLength="73.48" lengthAdjust="spacingAndGlyphs" >Sep</text>
<text x="935.49" y="1384.80" font-size="42.15" fill="#262626" font-weight="normal" textLength="67.77" lengthAdjust="spacingAndGlyphs" >Oct</text>
<text x="1094.99" y="1384.80" font-size="42.05" fill="#262626" font-weight="normal" textLength="75.94" lengthAdjust="spacingAndGlyphs" >Nov</text>
<text x="-172.66" y="0.00" font-size="41.51" fill="#1f77b4" font-weight="normal" textLength="344.55" lengthAdjust="spacingAndGlyphs" transform="translate(34.1,695) rotate(-90)">Ice concentration</text>
<g transform="translate(1252.8,0) rotate(90)">
<text x="319.70" y="0.00" font-size="41.39" fill="#2ca02c" font-weight="normal" textLength="699.43" lengthAdjust="spacingAndGlyphs" >Chlorophyll concentration [mmol m</text>
<path d="M1023,-23.1H1039.5" stroke="#2ca02c" stroke-width="1.5"/>
<text x="1041.6" y="-16.0" font-family="Liberation Serif, serif" font-size="26.5" fill="#2ca02c">3</text>
<text x="1062.35" y="0.00" font-size="41.51" fill="#2ca02c" font-weight="normal" textLength="11.42" lengthAdjust="spacingAndGlyphs" >]</text>
</g>
<path d="M187.25,499.20H221.8" stroke="#1f77b4" stroke-width="2.8"/>
<text x="244.15" y="507.50" font-size="23.80" fill="#000" font-weight="normal" textLength="101.54" lengthAdjust="spacingAndGlyphs" >Mean ice</text>
<rect x="181.1" y="523.70" width="47.7" height="18.1" fill="#aec7e8"/>
<text x="244.40" y="540.90" font-size="23.80" fill="#000" font-weight="normal" textLength="85.15" lengthAdjust="spacingAndGlyphs" >STD ice</text>
<path d="M187.25,566.00H221.8" stroke="#2ca02c" stroke-width="2.8"/>
<text x="244.13" y="574.30" font-size="23.80" fill="#000" font-weight="normal" textLength="196.50" lengthAdjust="spacingAndGlyphs" >Mean Chlorophyll</text>
<rect x="181.1" y="590.50" width="47.7" height="18.1" fill="#98df8a"/>
<text x="244.36" y="607.70" font-size="23.80" fill="#000" font-weight="normal" textLength="180.20" lengthAdjust="spacingAndGlyphs" >STD Chlorophyll</text>
<path d="M187.25,632.80H221.8" stroke="#98df8a" stroke-width="2.7"/>
<text x="244.10" y="641.10" font-size="23.80" fill="#000" font-weight="normal" textLength="232.12" lengthAdjust="spacingAndGlyphs" >Min/max Chlorophyll</text>
</svg></body></html>
